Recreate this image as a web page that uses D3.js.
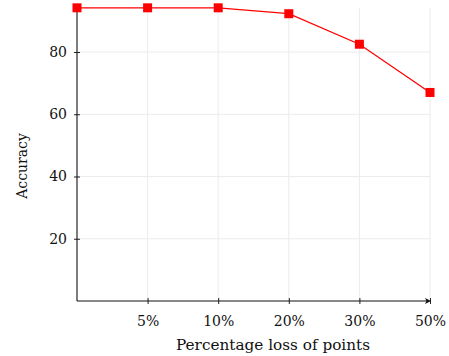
<!DOCTYPE html>
<html>
<head>
<meta charset="utf-8">
<script src="https://cdn.jsdelivr.net/npm/d3@7"></script>
<style>
	body { margin: 0; background: #fff; }
	svg { display: block; }
	text { font-family: "DejaVu Serif", serif; fill: #111; }
</style>
</head>
<body>
<svg width="449" height="356"></svg>
<script>
// loss levels on x, accuracy on y
const categories = ["0%", "5%", "10%", "20%", "30%", "50%"];
const tickLabels = ["", "5%", "10%", "20%", "30%", "50%"];
const accuracy = [94.2, 94.2, 94.2, 92.3, 82.5, 67.0];
const yTicks = [20, 40, 60, 80];

const svg = d3.select("svg");
const plotLeft = 77,
	plotRight = 430,
	plotTop = 7.5,
	plotBottom = 301;

const xScale = d3.scalePoint().domain(categories).range([plotLeft, plotRight]);
const yScale = d3.scaleLinear().domain([0, 94.3]).range([plotBottom, plotTop]);

const g = svg.append("g");

// grid
g.selectAll(".hgrid")
	.data(yTicks)
	.enter()
	.append("line")
	.attr("x1", plotLeft)
	.attr("x2", plotRight)
	.attr("y1", (d) => yScale(d))
	.attr("y2", (d) => yScale(d))
	.attr("stroke", "#ececec")
	.attr("stroke-width", 1);
g.selectAll(".vgrid")
	.data(categories.slice(1))
	.enter()
	.append("line")
	.attr("x1", (d) => xScale(d))
	.attr("x2", (d) => xScale(d))
	.attr("y1", plotTop)
	.attr("y2", plotBottom)
	.attr("stroke", "#ececec")
	.attr("stroke-width", 1);

// axes
const xAxis = g
	.append("g")
	.attr("transform", "translate(0," + plotBottom + ")")
	.call(
		d3
			.axisBottom(xScale)
			.tickValues(categories.slice(1))
			.tickFormat((d) => tickLabels[categories.indexOf(d)])
			.tickSizeInner(3)
			.tickSizeOuter(0)
			.tickPadding(12)
	)
	.call((a) => a.select(".domain").remove());
xAxis.selectAll(".tick line").attr("y1", -3).attr("stroke", "#222");
xAxis
	.selectAll(".tick text")
	.attr("font-size", "14px")
	.attr("font-family", "DejaVu Serif");

const yAxis = g
	.append("g")
	.attr("transform", "translate(" + plotLeft + ",0)")
	.call(
		d3
			.axisLeft(yScale)
			.tickValues(yTicks)
			.tickSizeInner(3)
			.tickSizeOuter(0)
			.tickPadding(7)
	)
	.call((a) => a.select(".domain").remove());
yAxis.selectAll(".tick line").attr("x1", 3).attr("x2", -3).attr("stroke", "#222");
yAxis
	.selectAll(".tick text")
	.attr("font-size", "14px")
	.attr("font-family", "DejaVu Serif");

// axis lines
g.append("line")
	.attr("x1", plotLeft)
	.attr("x2", plotLeft)
	.attr("y1", plotTop)
	.attr("y2", plotBottom)
	.attr("stroke", "#111")
	.attr("stroke-width", 1.1);
g.append("line")
	.attr("x1", plotLeft)
	.attr("x2", plotRight - 2)
	.attr("y1", plotBottom)
	.attr("y2", plotBottom)
	.attr("stroke", "#111")
	.attr("stroke-width", 1.1);
g.append("path")
	.attr("d", "M" + (plotRight + 1) + "," + plotBottom + "l-6,-3l1.5,3l-1.5,3z")
	.attr("fill", "#111");

// series
const line = d3
	.line()
	.x((d, i) => xScale(categories[i]))
	.y((d) => yScale(d));
g.append("path")
	.datum(accuracy)
	.attr("d", line)
	.attr("fill", "none")
	.attr("stroke", "#ff0000")
	.attr("stroke-width", 1.3);
g.selectAll(".marker")
	.data(accuracy)
	.enter()
	.append("rect")
	.attr("x", (d, i) => xScale(categories[i]) - 4.5)
	.attr("y", (d) => yScale(d) - 4.5)
	.attr("width", 9)
	.attr("height", 9)
	.attr("fill", "#ff0000");

// labels
svg.append("text")
	.attr("x", 273)
	.attr("y", 350)
	.attr("text-anchor", "middle")
	.attr("font-size", "15px")
	.attr("textLength", 194)
	.attr("lengthAdjust", "spacingAndGlyphs")
	.text("Percentage loss of points");
svg.append("text")
	.attr("transform", "translate(27,166) rotate(-90)")
	.attr("text-anchor", "middle")
	.attr("font-size", "14px")
	.text("Accuracy");
</script>
</body>
</html>
